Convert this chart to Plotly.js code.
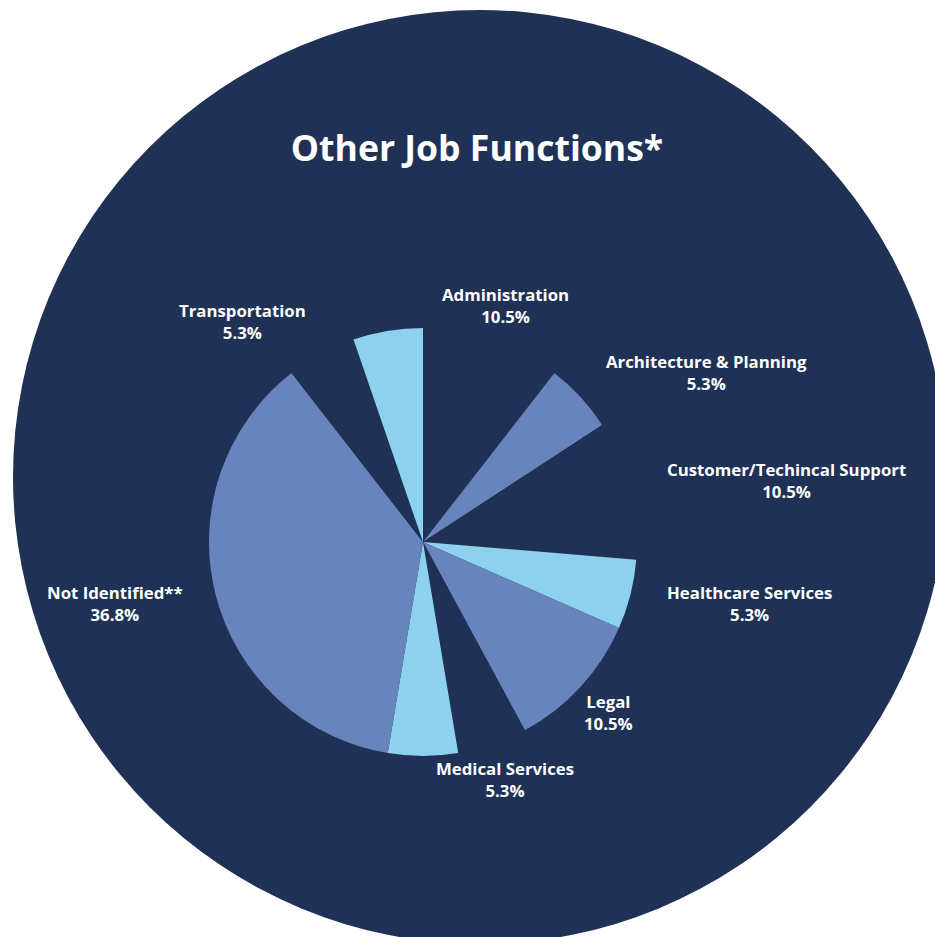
<!DOCTYPE html>
<html>
<head>
<meta charset="utf-8">
<script src="https://cdn.plot.ly/plotly-3.0.1.min.js"></script>
<style>
  html, body { margin: 0; padding: 0; background: #ffffff; }
  #chart { width: 935px; height: 937px; }
</style>
</head>
<body>
<div id="chart"></div>
<script>
// ---- data ----
const categories = ['Administration', 'Architecture & Planning', 'Customer/Techincal Support',
  'Healthcare Services', 'Legal', 'gap-a', 'Medical Services', 'Not Identified**', 'gap-b', 'Transportation'];
const counts = [2, 1, 2, 1, 2, 1, 1, 7, 1, 1];
const shownLabel = [true, true, true, true, true, false, true, true, false, true];
const chartTitle = 'Other Job Functions*';

// ---- style ----
const NAVY = '#1f3255';
const LIGHT = '#8dd1ee';
const MID = '#6784bd';
const sliceColors = [NAVY, MID, NAVY, LIGHT, MID, NAVY, LIGHT, MID, NAVY, LIGHT];
const W = 935, H = 937;
// label block centres in pixels (layout styling)
const labelPos = [
  [505, 305], [706, 372], [786, 480], [749, 603], [608, 712], null, [505, 779], [115, 603], null, [242, 321]
];
const FONT = 'Open Sans, Noto Sans, sans-serif';

const total = counts.reduce((a, b) => a + b, 0);
const annotations = [];
categories.forEach((c, i) => {
  if (!shownLabel[i]) return;
  const pct = (counts[i] / total * 100).toFixed(1) + '%';
  annotations.push({
    text: c + '<br>' + pct,
    x: labelPos[i][0] / W, y: 1 - labelPos[i][1] / H,
    xref: 'paper', yref: 'paper', xanchor: 'center', yanchor: 'middle',
    showarrow: false, align: 'center',
    font: { family: FONT, size: 16.8, color: '#ffffff', weight: 700 }
  });
});

const cx = 423, cy = 542, R = 214;
const trace = {
  type: 'pie',
  labels: categories,
  values: counts,
  sort: false,
  direction: 'clockwise',
  rotation: 0,
  textinfo: 'none',
  hoverinfo: 'label+percent',
  marker: { colors: sliceColors, line: { width: 0 } },
  domain: { x: [(cx - R) / W, (cx + R) / W], y: [(H - cy - R) / H, (H - cy + R) / H] },
  showlegend: false
};

const layout = {
  width: W, height: H,
  margin: { l: 0, r: 0, t: 0, b: 0 },
  paper_bgcolor: '#ffffff',
  plot_bgcolor: '#ffffff',
  showlegend: false,
  title: {
    text: chartTitle,
    x: 477 / W, xanchor: 'center',
    y: 1 - 149 / H, yanchor: 'middle', yref: 'container',
    font: { family: FONT, size: 35.6, color: '#ffffff', weight: 700 }
  },
  shapes: [{
    type: 'circle', layer: 'below',
    xref: 'paper', yref: 'paper',
    x0: 13 / W, x1: 947 / W, y0: (H - 944) / H, y1: (H - 10) / H,
    fillcolor: NAVY, line: { width: 0 }
  }],
  annotations: annotations
};

Plotly.newPlot('chart', [trace], layout, { displayModeBar: false, staticPlot: true });
</script>
</body>
</html>
